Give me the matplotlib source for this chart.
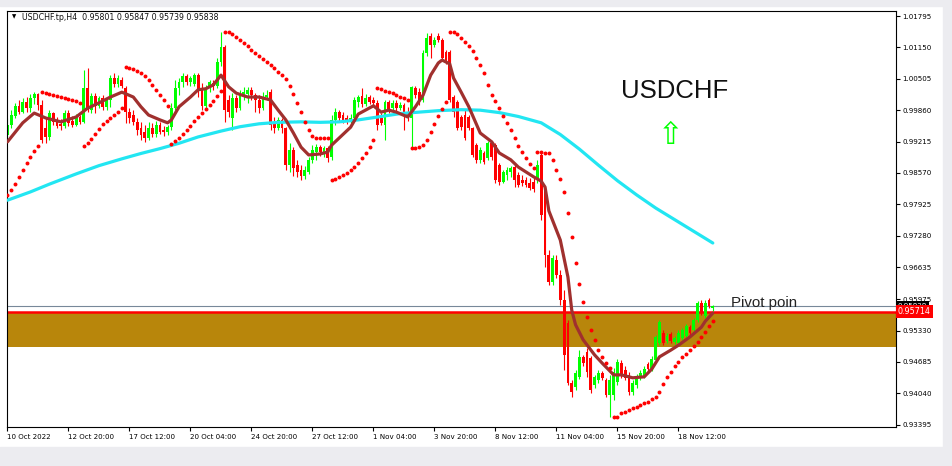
import numpy as np
import matplotlib
matplotlib.use("Agg")
import matplotlib.pyplot as plt
from matplotlib.patches import Rectangle
from matplotlib.transforms import blended_transform_factory

# USDCHF H4 candles, one entry per bar
opens = [
    .9935, .9956, .9974, .9995, .9982, 1.0003, .9990, 1.0011, 1.0019, .9997,
    .9949, .9931, .9980, .9962, .9958, .9953, .9980, .9964, .9956, .9972,
    .9962, 1.0032, .9986, 1.0015, .9995, 1.0011, .9993, 1.0007, 1.0052, 1.0040,
    1.0048, 1.0032, .9982, .9976, .9962, .9949, .9941, .9929, .9949, .9937,
    .9956, .9945, .9941, .9951, .9990, 1.0032, 1.0044, 1.0056, 1.0044, 1.0040,
    1.0058, 1.0032, .9995, 1.0032, 1.0042, 1.0036, 1.0085, 1.0116, 1.0007, .9970,
    1.0011, .9990, 1.0015, 1.0019, 1.0028, 1.0017, 1.0007, .9990, 1.0013, 1.0023,
    .9962, .9949, .9966, .9949, .9873, .9904, .9873, .9863, .9851, .9859,
    .9884, .9900, .9910, .9898, .9908, .9890, .9966, .9982, .9976, .9970,
    .9964, .9970, 1.0003, 1.0015, .9999, 1.0013, 1.0007, 1.0001, .9970, .9956,
    1.0003, .9990, 1.0001, .9990, .9997, .9982, .9970, 1.0032, 1.0023, 1.0007,
    1.0104, 1.0138, 1.0120, 1.0138, 1.0130, 1.0106, 1.0106, 1.0013, 1.0003, .9972,
    .9976, .9972, .9949, .9914, .9884, .9898, .9888, .9919, .9914, .9873,
    .9838, .9853, .9859, .9869, .9853, .9843, .9843, .9836, .9838, .9843,
    .9894, .9822, .9688, .9633, .9678, .9647, .9596, .9549, .9425, .9417,
    .9438, .9479, .9489, .9477, .9421, .9432, .9446, .9432, .9401, .9401,
    .9427, .9466, .9452, .9442, .9407, .9421, .9436, .9440, .9464, .9454,
    .9473, .9507, .9528, .9512, .9526, .9510, .9507, .9518, .9522, .9540,
    .9534, .9555, .9590, .9563, .9596, .95801,
]
highs = [
    .9970, .9986, 1.0001, 1.0007, 1.0011, 1.0013, 1.0019, 1.0023, 1.0021, 1.0007,
    .9970, .9986, .9982, .9972, .9968, .9986, .9986, .9974, .9978, .9976,
    1.0069, 1.0073, 1.0021, 1.0021, 1.0015, 1.0017, 1.0013, 1.0058, 1.0062, 1.0058,
    1.0054, 1.0036, .9990, .9986, .9970, .9962, .9956, .9962, .9960, .9964,
    .9962, .9953, .9956, 1.0001, 1.0048, 1.0052, 1.0062, 1.0060, 1.0056, 1.0062,
    1.0062, 1.0042, 1.0038, 1.0048, 1.0048, 1.0093, 1.0147, 1.0120, 1.0017, 1.0021,
    1.0017, 1.0028, 1.0034, 1.0034, 1.0034, 1.0021, 1.0017, 1.0023, 1.0028, 1.0030,
    .9972, .9972, .9970, .9951, .9919, .9910, .9884, .9873, .9871, .9890,
    .9914, .9916, .9914, .9912, .9912, .9976, .9990, .9986, .9982, .9976,
    .9978, 1.0013, 1.0017, 1.0032, 1.0019, 1.0017, 1.0013, 1.0007, .9980, 1.0007,
    1.0007, 1.0007, 1.0007, 1.0003, 1.0001, .9993, 1.0036, 1.0036, 1.0032, 1.0110,
    1.0145, 1.0145, 1.0136, 1.0145, 1.0134, 1.0110, 1.0110, 1.0017, 1.0007, .9976,
    .9986, .9976, .9951, .9919, .9910, .9902, .9923, .9923, .9919, .9877,
    .9863, .9869, .9871, .9873, .9859, .9853, .9849, .9847, .9847, .9884,
    .9900, .9828, .9699, .9688, .9688, .9658, .9616, .9555, .9432, .9452,
    .9493, .9483, .9497, .9481, .9442, .9452, .9450, .9436, .9442, .9456,
    .9475, .9473, .9460, .9448, .9432, .9444, .9452, .9460, .9468, .9481,
    .9524, .9555, .9534, .9528, .9530, .9522, .9534, .9538, .9547, .9545,
    .9559, .9594, .9596, .9596, .9600, .95847,
]
lows = [
    .9929, .9949, .9970, .9978, .9980, .9982, .9982, .9999, .9986, .9919,
    .9919, .9925, .9956, .9949, .9945, .9949, .9953, .9951, .9953, .9958,
    .9960, .9982, .9980, .9980, .9990, .9986, .9986, .9993, 1.0034, 1.0034,
    1.0032, .9960, .9960, .9956, .9935, .9925, .9921, .9925, .9931, .9931,
    .9937, .9933, .9935, .9945, .9986, 1.0017, 1.0034, 1.0038, 1.0036, 1.0036,
    1.0013, .9986, .9990, 1.0023, 1.0028, 1.0032, 1.0077, .9962, .9972, .9945,
    .9982, .9986, 1.0007, 1.0001, 1.0007, .9982, .9980, .9986, 1.0007, .9945,
    .9939, .9945, .9939, .9863, .9859, .9851, .9849, .9843, .9845, .9855,
    .9877, .9884, .9892, .9890, .9879, .9884, .9956, .9962, .9960, .9958,
    .9960, .9968, .9993, .9993, .9995, .9999, .9995, .9945, .9956, .9925,
    .9980, .9982, .9984, .9986, .9945, .9964, .9910, 1.0011, .9997, 1.0003,
    1.0097, 1.0093, 1.0116, 1.0126, 1.0089, 1.0081, 1.0003, .9972, .9945, .9945,
    .9925, .9945, .9890, .9877, .9877, .9875, .9884, .9884, .9836, .9832,
    .9836, .9843, .9849, .9828, .9828, .9830, .9828, .9822, .9818, .9836,
    .9760, .9664, .9627, .9627, .9641, .9586, .9452, .9421, .9397, .9411,
    .9434, .9460, .9438, .9405, .9415, .9425, .9432, .9397, .9356, .9390,
    .9421, .9436, .9432, .9401, .9401, .9415, .9432, .9436, .9450, .9450,
    .9468, .9503, .9503, .9507, .9507, .9505, .9503, .9514, .9520, .9524,
    .9530, .9551, .9565, .9559, .9580, .95739,
]
closes = [
    .9956, .9976, .9995, .9982, 1.0003, .9990, 1.0011, 1.0019, .9997, .9925,
    .9931, .9980, .9962, .9953, .9953, .9980, .9960, .9956, .9972, .9962,
    1.0032, .9986, 1.0015, .9995, 1.0011, .9993, 1.0007, 1.0052, 1.0040, 1.0052,
    1.0036, .9982, .9970, .9962, .9945, .9935, .9929, .9949, .9937, .9956,
    .9941, .9941, .9951, .9990, 1.0032, 1.0044, 1.0056, 1.0044, 1.0052, 1.0058,
    1.0028, .9995, 1.0032, 1.0044, 1.0036, 1.0085, 1.0116, .9986, .9982, 1.0011,
    .9990, 1.0017, 1.0023, 1.0028, 1.0017, 1.0007, .9990, 1.0013, 1.0017, .9956,
    .9949, .9966, .9949, .9873, .9904, .9867, .9859, .9851, .9863, .9884,
    .9904, .9910, .9900, .9908, .9888, .9966, .9982, .9970, .9966, .9964,
    .9970, 1.0007, 1.0013, .9999, 1.0011, 1.0003, 1.0001, .9956, .9960, 1.0003,
    .9986, 1.0001, .9990, .9997, .9976, .9970, 1.0034, 1.0017, 1.0007, 1.0104,
    1.0134, 1.0120, 1.0130, 1.0130, 1.0093, 1.0089, 1.0007, .9982, .9949, .9951,
    .9929, .9949, .9894, .9884, .9904, .9879, .9919, .9890, .9843, .9838,
    .9859, .9863, .9867, .9843, .9832, .9836, .9832, .9826, .9824, .9873,
    .9771, .9688, .9633, .9682, .9647, .9596, .9483, .9425, .9407, .9446,
    .9479, .9466, .9448, .9411, .9438, .9446, .9436, .9401, .9432, .9448,
    .9468, .9442, .9436, .9407, .9425, .9438, .9446, .9454, .9454, .9475,
    .9520, .9551, .9507, .9522, .9512, .9518, .9528, .9534, .9543, .9528,
    .9555, .9590, .9569, .9590, .9584, .95838,
]

# parabolic SAR, one dot per bar
sar = [
    .9811, .9822, .9834, .9849, .9863, .9877, .9890, .9902, .9912,
    1.0023, 1.0021, 1.0019, 1.0017, 1.0015, 1.0013, 1.0011, 1.0009, 1.0007, 1.0005, 1.0001,
    .9912, .9919, .9927, .9937, .9947, .9958, .9964, .9970, .9976, .9982, .9990,
    1.0075, 1.0073, 1.0071, 1.0066, 1.0062, 1.0056, 1.0048, 1.0038, 1.0028, 1.0017, 1.0007, .9995,
    .9917, .9923, .9929, .9937, .9945, .9953, .9964, .9972, .9980, .9988, .9997, 1.0005, 1.0015, 1.0025,
    1.0147, 1.0147, 1.0143, 1.0136, 1.0130, 1.0124, 1.0118, 1.0110, 1.0104, 1.0097,
    1.0091, 1.0085, 1.0079, 1.0073, 1.0064, 1.0058, 1.0050, 1.0036, 1.0019, 1.0001,
    .9982, .9962, .9945, .9933, .9929, .9929, .9929, .9929,
    .9843, .9845, .9849, .9853, .9857, .9863, .9869, .9877, .9888, .9898, .9910, .9925,
    1.0032, 1.0030, 1.0025, 1.0023, 1.0021, 1.0017, 1.0013, 1.0011, 1.0007,
    .9908, .9908, .9910, .9914, .9925, .9941, .9958, .9974, .9988, 1.0003,
    1.0147, 1.0147, 1.0143, 1.0134, 1.0126, 1.0118, 1.0108, 1.0093, 1.0079, 1.0062,
    1.0038, 1.0017, 1.0005, .9990, .9974, .9960, .9945, .9929, .9912, .9900,
    .9888, .9875, .9867,
    .9900, .9900, .9898, .9898, .9884, .9863, .9845, .9818, .9775, .9725,
    .9672, .9629, .9592, .9561, .9534, .9514, .9493, .9479, .9466, .9456,
    .9356, .9356, .9364, .9366, .9370, .9374, .9376, .9380, .9384, .9386,
    .9392, .9397, .9407, .9423, .9438, .9448, .9460, .9468, .9479, .9485,
    .9493, .9501, .9510, .9520, .9530, .9543, .9553,
]

# fast moving average (brown), read at these bars
ma_bar = [0, 4, 7, 10, 14, 18, 21, 24, 27, 30, 33, 35, 37, 40, 42, 43, 45, 48, 50, 52,
          54, 56, 58, 60, 63, 66, 69, 71, 73, 75, 77, 79, 82, 84, 85, 90, 92, 96, 98, 100,
          102, 105, 107, 109, 111, 113, 114, 116, 117, 119, 121, 124, 127, 129, 132, 134, 138, 140, 141, 142,
          145, 147, 148, 149, 151, 154, 156, 159, 161, 164, 167, 169, 171, 174, 176, 179, 182, 183, 185]
ma_val = [.9921, .9960, .9980, .9970, .9962, .9972, .9990, 1.0001, 1.0013, 1.0023,
          1.0013, .9993, .9976, .9966, .9960, .9966, .9993, 1.0013, 1.0028, 1.0030,
          1.0038, 1.0058, 1.0034, 1.0021, 1.0013, 1.0013, 1.0007, .9986, .9966, .9939,
          .9910, .9894, .9896, .9900, .9914, .9951, .9978, .9995, .9982, .9986,
          .9982, .9972, .9993, 1.0017, 1.0058, 1.0083, 1.0089, 1.0081, 1.0052, 1.0023,
          .9993, .9939, .9921, .9898, .9884, .9869, .9849, .9840, .9828, .9779,
          .9719, .9643, .9575, .9545, .9514, .9483, .9466, .9442, .9442, .9436,
          .9438, .9454, .9479, .9493, .9503, .9520, .9540, .9552, .9569]

# slow moving average (cyan)
slow_bar = [0, 6, 11, 18, 24, 30, 35, 40, 45, 50, 56, 61, 66, 71, 77, 82, 87, 92,
            98, 103, 108, 113, 119, 124, 129, 134, 140, 145, 150, 155, 160, 165, 170, 175, 180, 185]
slow_val = [.9801, .9818, .9834, .9855, .9872, .9886, .9897, .9907, .9918, .9931, .9943, .9952,
            .9958, .9961, .9962, .9961, .9962, .9966, .9973, .9979, .9982, .9985, .9987, .9986,
            .9981, .9973, .9960, .9936, .9906, .9873, .9841, .9812, .9785, .9761, .9737, .9713]

x_tick_bars = [0, 16, 32, 48, 64, 80, 96, 112, 128, 144, 160, 176]
x_tick_labels = ["10 Oct 2022", "12 Oct 20:00", "17 Oct 12:00", "20 Oct 04:00", "24 Oct 20:00",
                 "27 Oct 12:00", "1 Nov 04:00", "3 Nov 20:00", "8 Nov 12:00", "11 Nov 04:00",
                 "15 Nov 20:00", "18 Nov 12:00"]
y_ticks = [1.01795, 1.01150, 1.00505, 0.99860, 0.99215, 0.98570, 0.97925, 0.97280, 0.96635,
           0.95975, 0.95330, 0.94685, 0.94040, 0.93395]

zone_low, zone_high = 0.9499, 0.95714
bid = 0.95838
pivot = 0.95714

W, H = 952, 466
fig = plt.figure(figsize=(W / 100, H / 100), dpi=100)
fig.patch.set_facecolor("white")
frame = "#ececf0"
fig.patches.append(Rectangle((0, 1 - 6 / H), 1, 6 / H, transform=fig.transFigure, color=frame, zorder=0))
fig.patches.append(Rectangle((0, 0), 1, 19 / H, transform=fig.transFigure, color=frame, zorder=0))
fig.patches.append(Rectangle((943 / W, 0), 9 / W, 1, transform=fig.transFigure, color=frame, zorder=0))

ax = fig.add_axes([7 / W, 39 / H, 889 / W, 416 / H])
ax.set_facecolor("white")

idx = np.arange(len(closes))
o = np.array(opens)
c = np.array(closes)
h = np.array(highs)
l = np.array(lows)
col = np.where(c >= o, "#00ff00", "#ff0000")

ax.axhspan(zone_low, zone_high, color="#b8860b", zorder=0.5, lw=0)
ax.axhline(bid, color="#778899", lw=0.8, zorder=1)
ax.axhline(pivot, color="#ff0000", lw=1.8, zorder=1)

ax.vlines(idx, l, h, colors=col, lw=0.8, zorder=2)
ax.bar(idx, np.abs(c - o), bottom=np.minimum(o, c), width=0.75, color=col, lw=0, zorder=2)

ax.plot(slow_bar, slow_val, color="#22e6f2", lw=2.3, zorder=3,
        solid_capstyle="round", solid_joinstyle="round")
ax.plot(ma_bar, ma_val, color="#a0302e", lw=2.3, zorder=4,
        solid_capstyle="round", solid_joinstyle="round")
ax.scatter(idx, sar, s=8, color="#ff0000", lw=0, zorder=5)

ax.set_xlim(-0.13, 233.05)
ax.set_ylim(0.93349, 1.01898)

ax.set_xticks(x_tick_bars)
ax.set_xticklabels(x_tick_labels, ha="left")
ax.yaxis.tick_right()
ax.set_yticks(y_ticks)
ax.set_yticklabels(["%.5f" % v for v in y_ticks])
ax.tick_params(axis="x", length=3, width=0.8, pad=2, labelsize=5.1, direction="out")
ax.tick_params(axis="y", length=3, width=0.8, pad=1.5, labelsize=5.1, direction="out")
for s in ax.spines.values():
    s.set_color("black")
    s.set_linewidth(0.8)

tr = blended_transform_factory(ax.transAxes, ax.transData)
ax.text(1.002, bid, "%.5f" % bid, transform=tr, ha="left", va="center", color="white",
        fontsize=5.1, clip_on=False, zorder=6,
        bbox=dict(boxstyle="square,pad=0.25", fc="black", ec="none"))
ax.text(1.002, pivot, "%.5f" % pivot, transform=tr, ha="left", va="center", color="white",
        fontsize=5.8, clip_on=False, zorder=7,
        bbox=dict(boxstyle="square,pad=0.25", fc="#ff0000", ec="none"))

ax.text(175, 1.0025, "USDCHF", ha="center", va="center", fontsize=18.5,
        family="Liberation Sans", color="#111111")
ax.text(174, 0.9934, "\u21e7", ha="center", va="center", fontsize=22, color="#00ff00")
ax.text(189.8, 0.9590, "Pivot poin", ha="left", va="center", fontsize=10.8,
        family="Liberation Sans", color="#222222", clip_on=False)

fig.text(12 / W, 1 - 17 / H, "\u25bc", fontsize=4, va="center", ha="left")
fig.text(22 / W, 1 - 17 / H, "USDCHF.tp,H4  0.95801 0.95847 0.95739 0.95838",
         fontsize=5.7, va="center", ha="left", color="#111111")

fig.savefig("out.png", dpi=100, facecolor=fig.get_facecolor())
